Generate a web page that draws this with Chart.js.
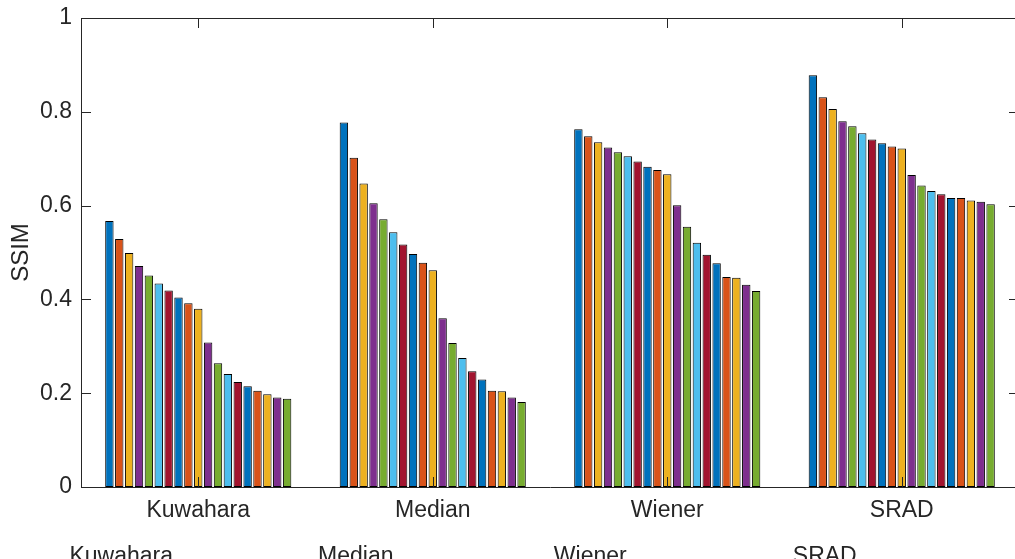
<!DOCTYPE html>
<html>
<head>
<meta charset="utf-8">
<script src="https://cdn.jsdelivr.net/npm/chart.js@4/dist/chart.umd.min.js"></script>
<style>
  html, body { margin: 0; padding: 0; background: #fff; overflow: hidden; }
  #wrap { width: 1030px; height: 580px; }
</style>
</head>
<body>
<div id="wrap"><canvas id="chart"></canvas></div>
<script>
// categories on the x axis
const categories = ["Kuwahara", "Median", "Wiener", "SRAD"];

// SSIM values, 19 bars per group
const kuwahara = [0.567, 0.529, 0.499, 0.471, 0.451, 0.434, 0.419, 0.404, 0.392, 0.380,
                  0.308, 0.264, 0.241, 0.224, 0.215, 0.205, 0.198, 0.191, 0.188];
const median   = [0.777, 0.702, 0.647, 0.605, 0.571, 0.543, 0.517, 0.497, 0.478, 0.462,
                  0.360, 0.307, 0.275, 0.247, 0.229, 0.205, 0.204, 0.191, 0.181];
const wiener   = [0.763, 0.748, 0.735, 0.724, 0.714, 0.705, 0.694, 0.683, 0.676, 0.667,
                  0.601, 0.555, 0.521, 0.495, 0.477, 0.448, 0.446, 0.431, 0.418];
const srad     = [0.878, 0.831, 0.806, 0.780, 0.769, 0.754, 0.741, 0.733, 0.726, 0.722,
                  0.665, 0.643, 0.631, 0.624, 0.616, 0.616, 0.611, 0.608, 0.603];

const yTickLabels = ["0", "0.2", "0.4", "0.6", "0.8", "1"];

// matlab default colour order
const colorOrder = ["#0072BD", "#D95319", "#EDB120", "#7E2F8E", "#77AC30", "#4DBEEE", "#A2142F"];

const axisColor = "#262626";
const tickFont = { family: "'Liberation Sans', Arial, sans-serif", size: 23 };

const groups = [kuwahara, median, wiener, srad];
const datasets = kuwahara.map(function (_, i) {
  return {
    data: groups.map(g => g[i]),
    backgroundColor: colorOrder[i % colorOrder.length],
    borderColor: "#000000",
    borderWidth: 1,
    borderSkipped: false,
    categoryPercentage: 0.8,
    barPercentage: 0.85
  };
});

// top line, inward ticks and the clipped second label row
const matlabAxes = {
  id: "matlabAxes",
  afterDraw(chart) {
    const ctx = chart.ctx;
    const a = chart.chartArea;
    const xs = chart.scales.x;
    const ys = chart.scales.y;
    ctx.save();
    ctx.strokeStyle = axisColor;
    ctx.lineWidth = 1;
    ctx.beginPath();
    ctx.moveTo(a.left, a.top + 0.5);
    ctx.lineTo(a.right, a.top + 0.5);
    yTickLabels.forEach(function (_, i) {
      const y = Math.round(ys.getPixelForValue(i * 0.2)) + 0.5;
      ctx.moveTo(a.left, y);
      ctx.lineTo(a.left + 10, y);
      ctx.moveTo(a.right, y);
      ctx.lineTo(a.right - 10, y);
    });
    categories.forEach(function (_, i) {
      const x = Math.round(xs.getPixelForValue(i)) + 0.5;
      ctx.moveTo(x, a.bottom);
      ctx.lineTo(x, a.bottom - 10);
      ctx.moveTo(x, a.top);
      ctx.lineTo(x, a.top + 10);
    });
    ctx.stroke();

    ctx.fillStyle = axisColor;
    ctx.font = tickFont.size + "px " + tickFont.family;
    ctx.textAlign = "center";
    ctx.textBaseline = "top";
    categories.forEach(function (c, i) {
      ctx.fillText(c, xs.getPixelForValue(i) - 77, 545);
    });
    ctx.restore();
  }
};

new Chart(document.getElementById("chart"), {
  type: "bar",
  data: { labels: categories, datasets: datasets },
  plugins: [matlabAxes],
  options: {
    responsive: true,
    maintainAspectRatio: false,
    animation: false,
    layout: { padding: { top: 18, right: 11, left: 0, bottom: 0 } },
    plugins: { legend: { display: false }, tooltip: { enabled: false } },
    scales: {
      x: {
        grid: { display: false, drawTicks: false },
        border: { display: true, color: axisColor, width: 1 },
        ticks: { color: axisColor, font: tickFont, padding: 10, maxRotation: 0 },
        afterFit: function (scale) { scale.height = 93; }
      },
      y: {
        min: 0,
        max: 1,
        grid: { display: false, drawTicks: false },
        border: { display: true, color: axisColor, width: 1 },
        ticks: {
          stepSize: 0.2,
          color: axisColor,
          font: tickFont,
          padding: 9,
          callback: function (v, i) { return yTickLabels[i]; }
        },
        title: {
          display: true,
          text: "SSIM",
          color: axisColor,
          font: { family: tickFont.family, size: 24 },
          padding: { top: 7, bottom: 0 }
        },
        afterFit: function (scale) {
          scale.width = 81;
          scale.paddingTop = 0;
          scale.paddingBottom = 0;
        }
      }
    }
  }
});
</script>
</body>
</html>
